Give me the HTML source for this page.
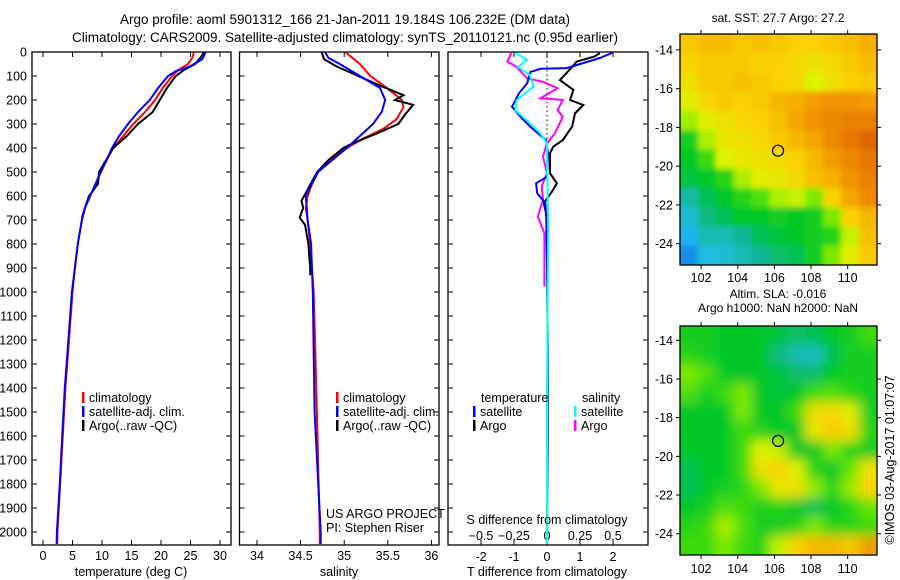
<!DOCTYPE html>
<html><head><meta charset="utf-8">
<style>
html,body{margin:0;padding:0;background:#fff;}
svg{display:block;font-family:"Liberation Sans",sans-serif;}
text{fill:#000;}
</style></head>
<body>
<svg id="chart" width="900" height="580" viewBox="0 0 900 580" xmlns="http://www.w3.org/2000/svg">
<defs>
<clipPath id="c1"><rect x="32" y="52" width="199" height="493"/></clipPath>
<clipPath id="c2"><rect x="239.5" y="52" width="199.5" height="493"/></clipPath>
<clipPath id="c3"><rect x="448" y="52" width="200" height="493"/></clipPath>
<clipPath id="cm1"><rect x="680" y="34" width="197" height="231"/></clipPath>
<clipPath id="cm2"><rect x="680" y="326" width="197" height="229"/></clipPath>
<filter id="b1" x="-10%" y="-10%" width="120%" height="120%"><feGaussianBlur stdDeviation="3"/></filter>
<filter id="b2" x="-10%" y="-10%" width="120%" height="120%"><feGaussianBlur stdDeviation="6"/></filter>
</defs>
<text x="345" y="24" font-size="13.5" text-anchor="middle">Argo profile: aoml 5901312_166 21-Jan-2011 19.184S 106.232E (DM data)</text>
<text x="345" y="42" font-size="13.5" text-anchor="middle">Climatology: CARS2009. Satellite-adjusted climatology: synTS_20110121.nc (0.95d earlier)</text>
<g id="g1"></g>
<g id="g2"></g>
<g id="g3"></g>
<g id="gm1"></g>
<g id="gm2"></g>
<text transform="translate(894,460) rotate(-90)" font-size="12.5" text-anchor="middle">©IMOS 03-Aug-2017 01:07:07</text>
</svg>
<script>
// ---- profile data (depth in dbar) ----
const tClimDepth=[0,25,50,75,100,150,200,250,300,350,400,450,500,550,600,650,700,800,900,1000,1200,1400,1600,1800,2000,2050];
const tClim=[25.6,25.3,24.6,22.9,21.9,20.3,19.0,17.3,15.3,13.6,11.9,10.8,9.8,8.9,8.0,7.1,6.6,5.9,5.4,5.0,4.4,3.8,3.35,2.9,2.45,2.4];
const tSatDepth=[0,30,60,80,100,150,200,250,300,350,400,450,500,550,600,650,700,800,900,1000,1200,1400,1600,1800,2000,2050];
const tSat=[27.6,27.0,24.9,22.5,21.2,19.5,18.1,16.1,14.4,12.9,11.7,10.8,9.8,8.9,8.0,7.1,6.6,5.9,5.4,4.9,4.3,3.7,3.25,2.85,2.35,2.3];
const tArgoDepth=[0,20,50,75,100,150,200,250,300,350,400,500,550,600,650,690];
const tArgo=[27.3,26.8,25.8,23.9,22.5,21.0,19.8,18.6,16.1,14.2,11.9,9.5,9.3,7.8,7.1,6.6];

const sClimDepth=[0,50,100,150,200,230,280,320,360,400,450,500,550,600,650,700,800,900,1000,1400,2000,2050];
const sClim=[35.01,35.18,35.30,35.49,35.66,35.68,35.60,35.45,35.22,35.03,34.84,34.70,34.63,34.58,34.56,34.58,34.61,34.63,34.65,34.68,34.72,34.72];
const sSatDepth=[0,25,50,100,150,200,250,300,350,400,500,600,700,800,1000,1500,2000,2050];
const sSat=[34.78,34.82,34.95,35.18,35.41,35.47,35.43,35.33,35.18,35.03,34.70,34.56,34.58,34.62,34.64,34.66,34.73,34.73];
const sArgoDepth=[0,30,60,100,140,180,200,220,260,300,340,380,400,450,500,580,620,650,690,720,800,900,930];
const sArgo=[34.74,34.77,34.91,35.16,35.41,35.68,35.58,35.79,35.70,35.62,35.37,35.10,34.99,34.82,34.69,34.57,34.51,34.53,34.49,34.55,34.59,34.61,34.61];

const dTSatDepth=[4,25,67,70,83,130,172,228,270,312,367,422,520,547,588,630,700,900,1200,1600,2000,2050];
const dTSat=[1.97,1.6,0.6,-0.2,-0.5,-0.6,-0.85,-1.06,-0.8,-0.5,-0.03,0.03,0,-0.33,-0.3,-0.05,-0.02,0.0,0.02,0.02,0.0,0.0];
const dTArgoDepth=[4,18,40,62,117,158,200,221,256,311,367,394,422,505,547,582,630,686];
const dTArgo=[1.6,1.45,0.9,0.76,0.39,0.8,0.7,1.1,0.85,0.76,0.48,0.19,0.09,0.09,0.3,0.15,-0.1,0.0];
const dSArgoDepth=[4,40,62,110,124,151,193,200,242,270,339,381,436,505,560,616,686,755,977];
const dSArgo=[-0.27,-0.3,-0.23,-0.15,-0.03,0.08,-0.05,0.12,0.08,0.12,0.06,0,-0.03,0,-0.04,-0.03,-0.07,-0.02,-0.02];
const dSSatDepth=[4,33,62,96,144,200,242,297,339,381,477,700,1000,1400,2000,2050];
const dSSat=[-0.24,-0.15,-0.22,-0.13,-0.1,-0.23,-0.24,-0.13,-0.05,0,0,0.01,0.005,0.0,0.0,0.0];

const depthTicks=[0,100,200,300,400,500,600,700,800,900,1000,1100,1200,1300,1400,1500,1600,1700,1800,1900,2000];
const tTicks=[0,5,10,15,20,25,30];
const sTicks=[34,34.5,35,35.5,36];
const sTickLabels=["34","34.5","35","35.5","36"];
const dTTicks=[-2,-1,0,1,2];
const dSTicks=[-0.5,-0.25,0,0.25,0.5];

// ---- map data (rows north->south, cols west->east), scaled 0..1 colour index ----
const sstGrid=[
[.72,.75,.75,.72,.74,.72,.70,.70,.72,.74,.78],
[.70,.72,.72,.72,.70,.70,.68,.66,.68,.72,.75],
[.66,.72,.72,.74,.72,.70,.68,.60,.66,.70,.72],
[.62,.68,.72,.70,.72,.76,.78,.82,.84,.84,.82],
[.55,.62,.66,.68,.70,.74,.80,.84,.86,.88,.88],
[.42,.56,.64,.66,.68,.72,.76,.80,.86,.90,.94],
[.40,.46,.60,.64,.66,.68,.70,.76,.82,.86,.90],
[.38,.40,.44,.56,.62,.64,.68,.74,.78,.84,.88],
[.28,.36,.40,.44,.48,.56,.58,.52,.70,.80,.86],
[.22,.32,.36,.40,.40,.42,.40,.42,.52,.70,.76],
[.16,.26,.26,.30,.36,.38,.40,.42,.44,.58,.74],
[.10,.20,.22,.26,.30,.34,.36,.42,.52,.62,.72]];
const slaGrid=[
[.42,.42,.40,.40,.40,.38,.34,.36,.40,.42,.46],
[.44,.42,.40,.40,.40,.32,.26,.24,.36,.42,.42],
[.52,.48,.40,.40,.40,.38,.34,.34,.40,.42,.42],
[.48,.42,.46,.52,.40,.38,.40,.46,.48,.44,.42],
[.40,.40,.40,.52,.40,.40,.46,.66,.68,.62,.42],
[.40,.40,.40,.46,.44,.40,.40,.64,.72,.66,.44],
[.40,.40,.40,.46,.60,.58,.40,.40,.52,.44,.42],
[.36,.40,.40,.46,.66,.70,.60,.44,.40,.50,.66],
[.36,.40,.42,.44,.52,.64,.66,.54,.44,.54,.70],
[.40,.42,.48,.46,.42,.44,.40,.36,.40,.44,.50],
[.44,.46,.56,.48,.42,.42,.44,.52,.44,.44,.46],
[.46,.46,.52,.46,.44,.58,.70,.76,.76,.72,.82]];
const lonTicks=[102,104,106,108,110];
const latTicks=[-14,-16,-18,-20,-22,-24];
const argoPos=[106.2,-19.2];

const NS='http://www.w3.org/2000/svg';
function mk(p,tag,a){const e=document.createElementNS(NS,tag);for(const k in a)e.setAttribute(k,a[k]);p.appendChild(e);return e;}
const yD=d=>52+d*0.24;
const xT=v=>43+v*5.9;
const xS=v=>257+(v-34)*87.2;
const xDT=v=>547+v*33;
const xDS=v=>547+v*132;

function line(g,xs,ds,fx,col,name,clip){
  const pts=xs.map((v,i)=>fx(v).toFixed(1)+','+yD(ds[i]).toFixed(1)).join(' ');
  const e=mk(g,'polyline',{points:pts,fill:'none',stroke:col,'stroke-width':2,'clip-path':'url(#'+clip+')'});
  
  
}
function panel(g,x0,x1){
  const r=mk(g,'rect',{x:x0,y:52,width:x1-x0,height:493,fill:'none',stroke:'#000','stroke-width':1.3});
  
  
  depthTicks.forEach(d=>{
    mk(g,'line',{x1:x0,x2:x0+5,y1:yD(d),y2:yD(d),stroke:'#000'});
    mk(g,'line',{x1:x1-5,x2:x1,y1:yD(d),y2:yD(d),stroke:'#000'});
  });
}
function xticks(g,vals,fx,labels,ylab){
  vals.forEach((v,i)=>{
    const x=fx(v);
    mk(g,'line',{x1:x,x2:x,y1:52,y2:57,stroke:'#000'});
    mk(g,'line',{x1:x,x2:x,y1:540,y2:545,stroke:'#000'});
    if(labels){const t=mk(g,'text',{x:x,y:ylab,'font-size':12.5,'text-anchor':'middle'});t.textContent=labels[i];
      
      }
  });
}
function txt(g,x,y,s,name,anchor,size){const t=mk(g,'text',{x:x,y:y,'font-size':size||12.5,'text-anchor':anchor||'start'});t.textContent=s;
  
  return t;}
function legend(g,x,y,items){
  items.forEach((it,i)=>{
    mk(g,'rect',{x:x,y:y+i*14-10,width:2.5,height:11,fill:it[1]});
    txt(g,x+7,y+i*14,it[0],'legend-entry');
  });
}

// Panel 1 temperature
const g1=document.getElementById('g1');
panel(g1,32,231);
depthTicks.forEach(d=>txt(g1,27,yD(d)+4.5,String(d),'y-tick-label','end'));
xticks(g1,tTicks,xT,tTicks.map(String),560);
line(g1,tClim,tClimDepth,xT,'#f00','temp-climatology-line','c1');
line(g1,tArgo,tArgoDepth,xT,'#000','temp-argo-line','c1');
line(g1,tSat,tSatDepth,xT,'#00f','temp-satellite-line','c1');
legend(g1,82,402,[['climatology','#f00'],['satellite-adj. clim.','#00f'],['Argo(..raw -QC)','#000']]);
txt(g1,131,576,'temperature (deg C)','x-axis-title','middle');

// Panel 2 salinity
const g2=document.getElementById('g2');
panel(g2,239.5,439);
xticks(g2,sTicks,xS,sTickLabels,560);
line(g2,sClim,sClimDepth,xS,'#f00','sal-climatology-line','c2');
line(g2,sArgo,sArgoDepth,xS,'#000','sal-argo-line','c2');
line(g2,sSat,sSatDepth,xS,'#00f','sal-satellite-line','c2');
legend(g2,336,402,[['climatology','#f00'],['satellite-adj. clim.','#00f'],['Argo(..raw -QC)','#000']]);
txt(g2,326,518,'US ARGO PROJECT','project-label');
txt(g2,326,532,'PI: Stephen Riser','pi-label');
txt(g2,339,576,'salinity','x-axis-title','middle');

// Panel 3 differences
const g3=document.getElementById('g3');
panel(g3,448,648);
xticks(g3,dTTicks,xDT,dTTicks.map(String),561);
dSTicks.forEach(v=>{txt(g3,xDS(v),540,String(v).replace('-','\u2212'),'s-tick-label','middle');});
mk(g3,'line',{x1:547,x2:547,y1:52,y2:yD(420),stroke:'#000','stroke-dasharray':'1.5,3'});
line(g3,dTArgo,dTArgoDepth,xDT,'#000','tdiff-argo-line','c3');
line(g3,dSArgo,dSArgoDepth,xDS,'#f0f','sdiff-argo-line','c3');
line(g3,dTSat,dTSatDepth,xDT,'#00f','tdiff-satellite-line','c3');
line(g3,dSSat,dSSatDepth,xDS,'#0ff','sdiff-satellite-line','c3');
txt(g3,481,402,'temperature','legend-title');
legend(g3,473,416,[['satellite','#00f'],['Argo','#000']]);
txt(g3,582,402,'salinity','legend-title');
legend(g3,574,416,[['satellite','#0ff'],['Argo','#f0f']]);
txt(g3,547,524,'S difference from climatology','s-axis-title','middle');
txt(g3,547,576,'T difference from climatology','x-axis-title','middle');

// Maps
const stops=[[0,[16,80,224]],[0.18,[32,192,240]],[0.3,[16,184,150]],[0.4,[0,200,40]],[0.5,[100,230,0]],[0.6,[220,245,0]],[0.7,[250,210,0]],[0.8,[245,165,0]],[0.9,[230,120,0]],[1,[210,80,0]]];
function col(v){for(let i=1;i<stops.length;i++){if(v<=stops[i][0]){const a=stops[i-1],b=stops[i],t=(v-a[0])/(b[0]-a[0]);return 'rgb('+a[1].map((c,k)=>Math.round(c+(b[1][k]-c)*t)).join(',')+')';}}return 'rgb(210,80,0)';}
function map(id,grid,y0,h,filt,clip,latTop,latBot,titles,lonLabY){
  const g=document.getElementById(id);
  const x0=680,w=197,lonL=100.85,lonR=111.6;
  const mx=lon=>x0+(lon-lonL)/(lonR-lonL)*w;
  const my=lat=>y0+(latTop-lat)/(latTop-latBot)*h;
  const cg=mk(g,'g',{'clip-path':'url(#'+clip+')'});
  const fg=mk(cg,'g',{filter:'url(#'+filt+')'});
  const nr=grid.length,nc=grid[0].length,cw=w/nc,ch=h/nr;
  grid.forEach((row,r)=>row.forEach((v,c)=>{
    let x=x0+c*cw,y=y0+r*ch,ww=cw+0.6,hh=ch+0.6;
    if(c===0){x-=20;ww+=20;} if(c===nc-1){ww+=20;}
    if(r===0){y-=20;hh+=20;} if(r===nr-1){hh+=20;}
    const e=mk(fg,'rect',{x:x,y:y,width:ww,height:hh,fill:col(v)});
    
    
  }));
  const fr=mk(g,'rect',{x:x0,y:y0,width:w,height:h,fill:'none',stroke:'#000','stroke-width':1.3});
  
  
  lonTicks.forEach(l=>{const x=mx(l);
    mk(g,'line',{x1:x,x2:x,y1:y0-4,y2:y0,stroke:'#000'});
    mk(g,'line',{x1:x,x2:x,y1:y0+h,y2:y0+h+4,stroke:'#000'});
    txt(g,x,lonLabY,String(l),'lon-tick-label','middle');});
  latTicks.forEach(l=>{const y=my(l);
    mk(g,'line',{x1:x0-4,x2:x0,y1:y,y2:y,stroke:'#000'});
    mk(g,'line',{x1:x0+w,x2:x0+w+4,y1:y,y2:y,stroke:'#000'});
    txt(g,673,y+4.5,String(l),'lat-tick-label','end');});
  const c=mk(g,'circle',{cx:mx(argoPos[0]),cy:my(argoPos[1]),r:5.5,fill:'none',stroke:'#000','stroke-width':1.2});
  
  
  titles.forEach((t,i)=>txt(g,778,titles.length===1?y0-12:y0-28+i*14,t,'map-title','middle',12));
}
map('gm1',sstGrid,34,231,'b1','cm1',-13.18,-25.1,['sat. SST: 27.7 Argo: 27.2'],282);
map('gm2',slaGrid,326,229,'b2','cm2',-13.26,-25.1,['Altim. SLA: -0.016','Argo h1000: NaN h2000: NaN'],573);
</script>
</body></html>
